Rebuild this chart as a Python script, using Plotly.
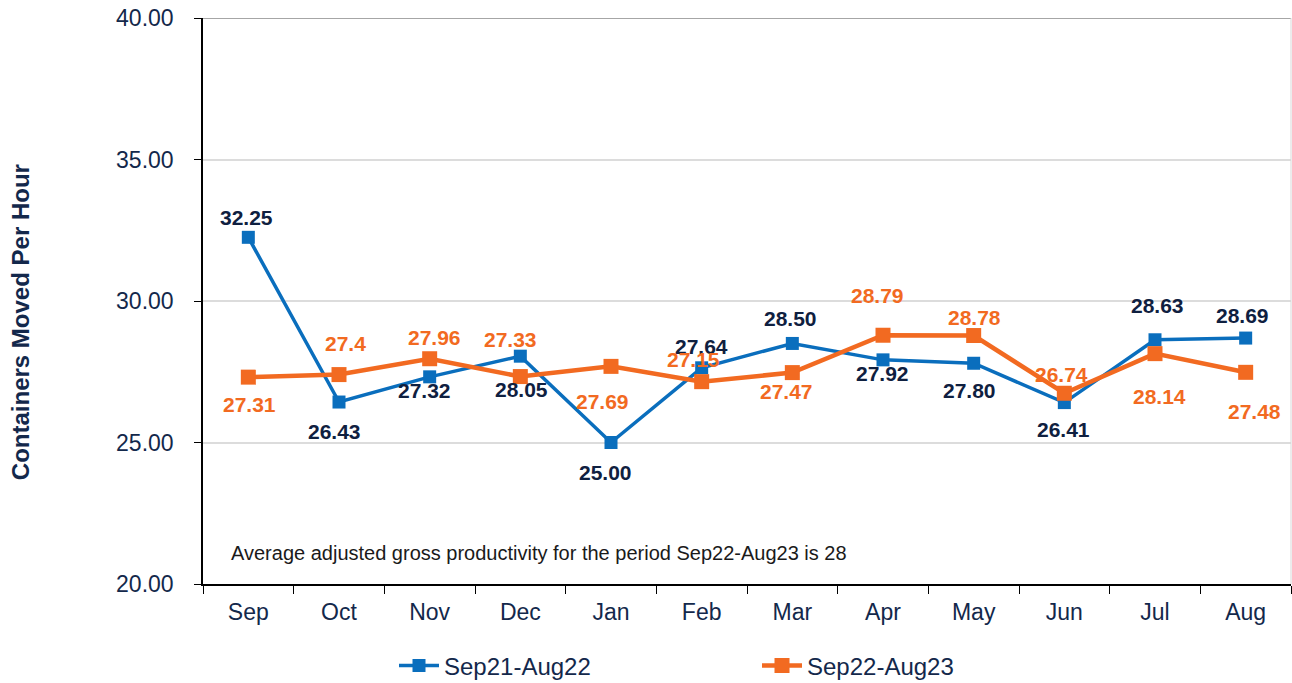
import plotly.graph_objects as go

months = ["Sep", "Oct", "Nov", "Dec", "Jan", "Feb", "Mar", "Apr", "May", "Jun", "Jul", "Aug"]
s1_name = "Sep21-Aug22"
s1_vals = [32.25, 26.43, 27.32, 28.05, 25.00, 27.64, 28.50, 27.92, 27.80, 26.41, 28.63, 28.69]
s1_text = ["32.25", "26.43", "27.32", "28.05", "25.00", "27.64", "28.50", "27.92", "27.80", "26.41", "28.63", "28.69"]
s2_name = "Sep22-Aug23"
s2_vals = [27.31, 27.4, 27.96, 27.33, 27.69, 27.15, 27.47, 28.79, 28.78, 26.74, 28.14, 27.48]
s2_text = ["27.31", "27.4", "27.96", "27.33", "27.69", "27.15", "27.47", "28.79", "28.78", "26.74", "28.14", "27.48"]
y_ticks = [20, 25, 30, 35, 40]
note = "Average adjusted gross productivity for the period Sep22-Aug23 is 28"

# label placement offsets (pixels) relative to each point
s1_dx = [-2, -5, -5, 1, -6, 0, -2, -1, -4, -1, 2, -3]
s1_dy = [20, -29, -14, -33, -30, 21, 25, -14, -27, -27, 34, 23]
s2_dx = [1, 6, 5, -10, -9, -8, -6, -6, 1, -3, 4, 9]
s2_dy = [-27, 31, 21, 37, -35, 22, -19, 40, 18, 19, -43, -39]

FONT = "Liberation Sans, Arial, sans-serif"
NAVY = "#13284B"
LABEL_NAVY = "#0F2040"
BLUE = "#0A6EBD"
ORANGE = "#F26A21"

fig = go.Figure()
fig.add_trace(go.Scatter(
    x=months, y=s1_vals, name=s1_name, mode="lines+markers",
    line=dict(color=BLUE, width=3.5), marker=dict(symbol="square", size=13, color=BLUE),
    cliponaxis=False,
))
fig.add_trace(go.Scatter(
    x=months, y=s2_vals, name=s2_name, mode="lines+markers",
    line=dict(color=ORANGE, width=4.5), marker=dict(symbol="square", size=15, color=ORANGE),
    cliponaxis=False,
))

for xs, ys, ts, dxs, dys, col in [(months, s1_vals, s1_text, s1_dx, s1_dy, LABEL_NAVY),
                                   (months, s2_vals, s2_text, s2_dx, s2_dy, ORANGE)]:
    for x, y, t, dx, dy in zip(xs, ys, ts, dxs, dys):
        fig.add_annotation(x=x, y=y, text=t, showarrow=False, xshift=dx, yshift=dy,
                           xanchor="center", yanchor="middle",
                           font=dict(family=FONT, size=21, color=col, weight="bold"))

fig.update_layout(
    width=1292, height=683,
    margin=dict(l=203, r=1, t=18, b=99),
    paper_bgcolor="white", plot_bgcolor="white",
    font=dict(family=FONT, color=NAVY),
    showlegend=True,
    legend=dict(orientation="h", xref="container", x=394 / 1292, xanchor="left",
                yref="container", y=17 / 683, yanchor="middle",
                font=dict(size=24, color=NAVY), entrywidth=308, itemwidth=40),
    xaxis=dict(
        type="category", showgrid=False, showline=True, linecolor="black", linewidth=1.5,
        ticks="outside", tickson="boundaries", ticklen=8, tickcolor="black",
        tickfont=dict(size=23, color=NAVY), range=[-0.5, 11.5], ticklabelstandoff=7,
    ),
    yaxis=dict(
        range=[20, 40], tickvals=y_ticks, tickformat=".2f",
        showgrid=True, gridcolor="#DCDCDC", gridwidth=1.5,
        showline=True, linecolor="black", linewidth=1.5,
        ticks="outside", ticklen=7, tickcolor="black",
        tickfont=dict(size=23, color=NAVY), zeroline=False, ticklabelstandoff=16,
    ),
)
fig.add_shape(type="line", xref="paper", yref="y", x0=0, x1=1, y0=40, y1=40,
              line=dict(color="#A6A6A6", width=2))
fig.add_shape(type="line", xref="paper", yref="paper", x0=1, x1=1, y0=0, y1=1,
              line=dict(color="#D9D9D9", width=1))
fig.add_annotation(text="Containers Moved Per Hour", xref="paper", yref="paper",
                   x=(20 - 203) / 1089, y=(584 - 322) / 566, textangle=-90, showarrow=False,
                   xanchor="center", yanchor="middle",
                   font=dict(size=24, color=NAVY, weight="bold"))
fig.add_annotation(text=note, xref="paper", yref="y", x=(229 - 203) / 1089, y=21.1,
                   xanchor="left", yanchor="middle", showarrow=False,
                   font=dict(size=20, color="#1A1A1A"))

fig.write_html("out.html", config={"displayModeBar": False},
               post_script="document.body.style.margin='0';document.body.style.overflow='hidden';")
